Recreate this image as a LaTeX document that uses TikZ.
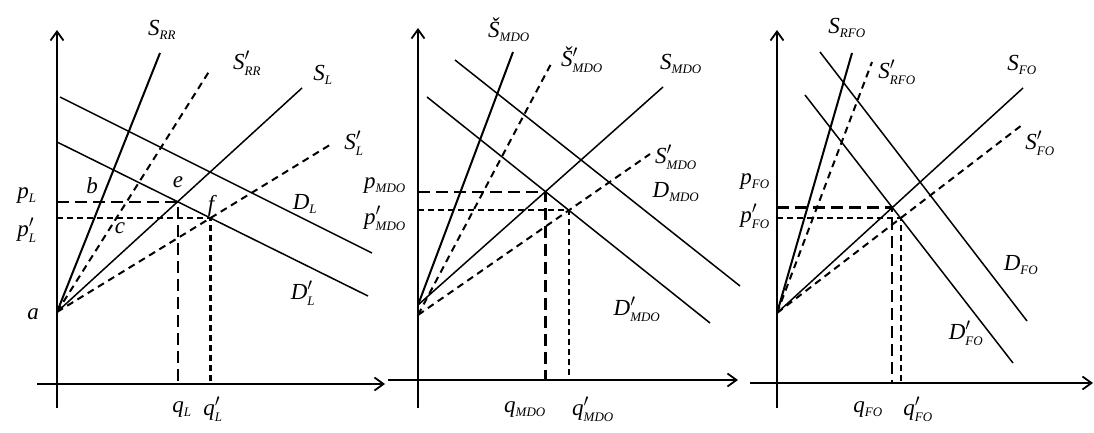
\documentclass[tikz,border=0pt]{standalone}
\usepackage{fontspec}
\setmainfont{Liberation Serif}
\usetikzlibrary{arrows.meta}
\newcommand{\lb}[2]{\textit{#1}\ensuremath{_{\mbox{\fontsize{13}{13}\selectfont\itshape #2}}}}
\newcommand{\lbp}[2]{\textit{#1}\ensuremath{^{\prime}_{\mbox{\fontsize{13}{13}\selectfont\itshape #2}}}}
\begin{document}
\begin{tikzpicture}[x=1pt,y=-1pt,
  axis/.style={line width=2.2pt,-{Straight Barb[length=9pt,width=13pt,line width=1.8pt]}},
  rrline/.style={line width=2pt},
  curve/.style={line width=1.5pt},
  sdash/.style={line width=2pt,dash pattern=on 7pt off 5pt},
  longdash/.style={line width=2.1pt,dash pattern=on 12pt off 6pt},
  shortdash/.style={line width=2.1pt,dash pattern=on 6pt off 4pt},
  lab/.style={font=\fontsize{23}{25}\selectfont\itshape,inner sep=0pt}]
\useasboundingbox (0,0) rectangle (1094,433);
% ---------- panel 1 ----------
\coordinate (Y1b) at (57,408); \coordinate (Y1t) at (57,30);
\coordinate (X1l) at (37,384); \coordinate (X1r) at (385,384);
\coordinate (A1) at (57,312);
\coordinate (RR1) at (160,53); \coordinate (RRp1) at (210,70);
\coordinate (SL1) at (302,88); \coordinate (SLp1) at (333,143);
\coordinate (D1a) at (60,97); \coordinate (D1b) at (372,253);
\coordinate (Dp1a) at (57,142); \coordinate (Dp1b) at (368,296);
\coordinate (E1) at (intersection of A1--SL1 and Dp1a--Dp1b);
\coordinate (F1) at (intersection of A1--SLp1 and Dp1a--Dp1b);
\draw[axis] (Y1b) -- (Y1t);
\draw[axis] (X1l) -- (X1r);
\draw[rrline] (A1) -- (RR1);
\draw[sdash] (A1) -- (RRp1);
\draw[curve] (A1) -- (SL1);
\draw[sdash] (A1) -- (SLp1);
\draw[curve] (D1a) -- (D1b);
\draw[curve] (Dp1a) -- (Dp1b);
\draw[longdash] (E1 -| Y1t) -- (E1) -- (E1 |- X1l);
\draw[shortdash] (F1 -| Y1t) -- (F1) -- (F1 |- X1l);
\node[lab] (tRR1) at (162,30) {\lb{S}{RR}};
\node[lab] (tRRp1) at (247,63) {\lbp{S}{RR}};
\node[lab] (tSL1) at (323,75) {\lb{S}{L}};
\node[lab] (tSLp1) at (354,143) {\lbp{S}{L}};
\node[lab] (tD1) at (305,204) {\lb{D}{L}};
\node[lab] (tDp1) at (303,293) {\lbp{D}{L}};
\node[lab] (ta) at (33,314) {a};
\node[lab] (tb) at (92,186) {b};
\node[lab] (tc) at (120,228) {c};
\node[lab] (te) at (178,182) {e};
\node[lab] (tf) at (211,206) {f};
\node[lab] (tp1) at (27,196) {\lb{p}{L}};
\node[lab] (tpp1) at (27,230) {\lbp{p}{L}};
\node[lab] (tq1) at (182,410) {\lb{q}{L}};
\node[lab] (tqp1) at (213,409) {\lbp{q}{L}};
% ---------- panel 2 ----------
\coordinate (Y2b) at (418,408); \coordinate (Y2t) at (418,28);
\coordinate (X2l) at (388,380); \coordinate (X2r) at (738,380);
\coordinate (A2) at (418,305); \coordinate (A2d) at (418,315);
\coordinate (RR2) at (513,52); \coordinate (RRp2) at (552,62);
\coordinate (SL2) at (663,87); \coordinate (SLp2) at (650,154);
\coordinate (D2a) at (455,60); \coordinate (D2b) at (740,286);
\coordinate (Dp2a) at (427,97); \coordinate (Dp2b) at (710,323);
\coordinate (E2) at (intersection of A2--SL2 and Dp2a--Dp2b);
\coordinate (F2) at (intersection of A2d--SLp2 and Dp2a--Dp2b);
\draw[axis] (Y2b) -- (Y2t);
\draw[axis] (X2l) -- (X2r);
\draw[rrline] (A2) -- (RR2);
\draw[sdash] (A2d) -- (RRp2);
\draw[curve] (A2) -- (SL2);
\draw[sdash] (A2d) -- (SLp2);
\draw[curve] (D2a) -- (D2b);
\draw[curve] (Dp2a) -- (Dp2b);
\draw[longdash] (E2 -| Y2t) -- (E2) -- (E2 |- X2l);
\draw[shortdash] (F2 -| Y2t) -- (F2) -- (F2 |- X2l);
\node[lab] (tRR2) at (509,30) {\lb{Š}{MDO}};
\node[lab] (tRRp2) at (582,60) {\lbp{Š}{MDO}};
\node[lab] (tSL2) at (681,64) {\lb{S}{MDO}};
\node[lab] (tSLp2) at (676,157) {\lbp{S}{MDO}};
\node[lab] (tD2) at (676,192) {\lb{D}{MDO}};
\node[lab] (tDp2) at (637,309) {\lbp{D}{MDO}};
\node[lab] (tp2) at (385,186) {\lb{p}{MDO}};
\node[lab] (tpp2) at (385,218) {\lbp{p}{MDO}};
\node[lab] (tq2) at (525,410) {\lb{q}{MDO}};
\node[lab] (tqp2) at (593,409) {\lbp{q}{MDO}};
% ---------- panel 3 ----------
\coordinate (Y3b) at (777,408); \coordinate (Y3t) at (777,30);
\coordinate (X3l) at (750,383); \coordinate (X3r) at (1093,383);
\coordinate (A3) at (777,313);
\coordinate (RR3) at (852,53); \coordinate (RRp3) at (872,62);
\coordinate (SL3) at (1023,88); \coordinate (SLp3) at (1022,125);
\coordinate (D3a) at (820,52); \coordinate (D3b) at (1027,321);
\coordinate (Dp3a) at (805,95); \coordinate (Dp3b) at (1013,363);
\coordinate (E3) at (intersection of A3--SL3 and Dp3a--Dp3b);
\coordinate (F3) at (intersection of A3--SLp3 and Dp3a--Dp3b);
\draw[axis] (Y3b) -- (Y3t);
\draw[axis] (X3l) -- (X3r);
\draw[rrline] (A3) -- (RR3);
\draw[sdash] (A3) -- (RRp3);
\draw[curve] (A3) -- (SL3);
\draw[sdash] (A3) -- (SLp3);
\draw[curve] (D3a) -- (D3b);
\draw[curve] (Dp3a) -- (Dp3b);
\draw[longdash] (E3 -| Y3t) -- (E3) -- (E3 |- X3l);
\draw[shortdash] (F3 -| Y3t) -- (F3) -- (F3 |- X3l);
\node[lab] (tRR3) at (847,28) {\lb{S}{RFO}};
\node[lab] (tRRp3) at (897,72) {\lbp{S}{RFO}};
\node[lab] (tSL3) at (1022,65) {\lb{S}{FO}};
\node[lab] (tSLp3) at (1040,143) {\lbp{S}{FO}};
\node[lab] (tD3) at (1021,265) {\lb{D}{FO}};
\node[lab] (tDp3) at (966,333) {\lbp{D}{FO}};
\node[lab] (tp3) at (755,182) {\lb{p}{FO}};
\node[lab] (tpp3) at (755,216) {\lbp{p}{FO}};
\node[lab] (tq3) at (868,410) {\lb{q}{FO}};
\node[lab] (tqp3) at (918,409) {\lbp{q}{FO}};
\end{tikzpicture}
\end{document}
